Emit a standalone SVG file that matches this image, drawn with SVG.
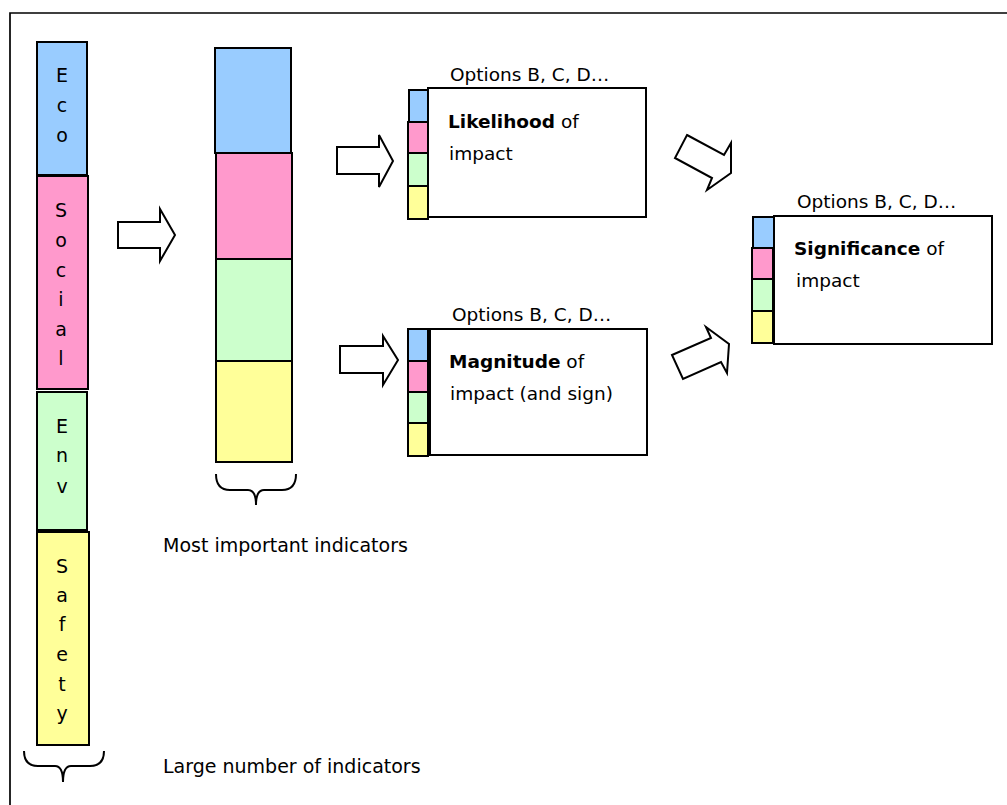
<svg xmlns="http://www.w3.org/2000/svg" width="1007" height="805" viewBox="0 0 1007 805">
<style>
  .bx{stroke:#000;stroke-width:2}
  .b{fill:#99CCFF}.p{fill:#FF99CC}.g{fill:#CCFFCC}.y{fill:#FFFF99}
  .w{fill:#fff;stroke:#000;stroke-width:2}
  .t{font-family:"DejaVu Sans","Liberation Sans",sans-serif;font-size:19px;fill:#000}
  .o{font-family:"DejaVu Sans","Liberation Sans",sans-serif;font-size:18.5px;fill:#000}
  .lt{font-family:"DejaVu Sans","Liberation Sans",sans-serif;font-size:19px;fill:#000;text-anchor:middle}
  .arr{fill:#fff;stroke:#000;stroke-width:2;stroke-linejoin:miter}
  .br{fill:none;stroke:#000;stroke-width:2}
</style>
<rect width="1007" height="805" fill="#fff"/>
<g id="frame"><path d="M10,805 L10,13 L1007,13" fill="none" stroke="#000" stroke-width="1.7"/></g>

<g id="left-column">
  <g id="eco"><rect class="bx b" x="37" y="42" width="50" height="133"/>
    <text class="lt" x="62" y="82">E</text><text class="lt" x="62" y="112">c</text><text class="lt" x="62" y="142">o</text></g>
  <g id="social"><rect class="bx p" x="37" y="176" width="51" height="213"/>
    <text class="lt" x="61" y="217">S</text><text class="lt" x="61" y="247">o</text><text class="lt" x="61" y="277">c</text><text class="lt" x="61" y="306">i</text><text class="lt" x="61" y="336">a</text><text class="lt" x="61" y="365">l</text></g>
  <g id="env"><rect class="bx g" x="37" y="392" width="50" height="138"/>
    <text class="lt" x="62" y="433">E</text><text class="lt" x="62" y="462">n</text><text class="lt" x="62" y="493">v</text></g>
  <g id="safety"><rect class="bx y" x="37" y="532" width="52" height="213"/>
    <text class="lt" x="62" y="573">S</text><text class="lt" x="62" y="602">a</text><text class="lt" x="62" y="631">f</text><text class="lt" x="62" y="661">e</text><text class="lt" x="62" y="691">t</text><text class="lt" x="62" y="720">y</text></g>
  <path class="br" d="M24,751 Q24,766 38,766 L55,766 Q63,766 63,782 Q63,766 71,766 L90,766 Q104,766 104,751"/>
  <text class="t" x="163" y="773">Large number of indicators</text>
</g>

<g id="middle-column">
  <rect class="bx b" x="215" y="48" width="76" height="105"/>
  <rect class="bx p" x="216" y="153" width="76" height="106"/>
  <rect class="bx g" x="216" y="259" width="76" height="102"/>
  <rect class="bx y" x="216" y="361" width="76" height="101"/>
  <path class="br" d="M216,474 Q216,490 230,490 L248,490 Q256,490 256,505 Q256,490 264,490 L282,490 Q296,490 296,474"/>
  <text class="t" x="163" y="552">Most important indicators</text>
</g>

<g id="likelihood">
  <text class="o" x="450" y="81">Options B, C, D…</text>
  <rect class="w" x="428" y="88" width="218" height="129"/>
  <rect class="bx b" x="409" y="90" width="19" height="32"/>
  <rect class="bx p" x="408" y="122" width="20" height="31"/>
  <rect class="bx g" x="408" y="153" width="20" height="33"/>
  <rect class="bx y" x="408" y="186" width="20" height="33"/>
  <text class="o" x="448" y="128"><tspan font-weight="bold">Likelihood</tspan> of</text>
  <text class="o" x="449" y="160">impact</text>
</g>

<g id="magnitude">
  <text class="o" x="452" y="321">Options B, C, D…</text>
  <rect class="w" x="430" y="329" width="217" height="126"/>
  <rect class="bx b" x="408" y="329" width="20" height="32"/>
  <rect class="bx p" x="408" y="361" width="20" height="31"/>
  <rect class="bx g" x="408" y="392" width="20" height="31"/>
  <rect class="bx y" x="408" y="423" width="20" height="33"/>
  <text class="o" x="449" y="368"><tspan font-weight="bold">Magnitude</tspan> of</text>
  <text class="o" x="450" y="400">impact (and sign)</text>
</g>

<g id="significance">
  <text class="o" x="797" y="208">Options B, C, D…</text>
  <rect class="w" x="774" y="216" width="218" height="128"/>
  <rect class="bx b" x="753" y="217" width="21" height="31"/>
  <rect class="bx p" x="752" y="248" width="21" height="31"/>
  <rect class="bx g" x="752" y="279" width="21" height="32"/>
  <rect class="bx y" x="752" y="311" width="21" height="32"/>
  <text class="o" x="794" y="255"><tspan font-weight="bold">Significance</tspan> of</text>
  <text class="o" x="796" y="287">impact</text>
</g>

<g id="connectors">
  <polygon class="arr" points="118,222 160,222 160,209 175,235 160,261 160,248 118,248"/>
  <polygon class="arr" points="337,147 379,147 379,135 393,161 379,187 379,174 337,174"/>
  <polygon class="arr" points="340,346 383,346 383,336 398,360 383,385 383,373 340,373"/>
  <polygon class="arr" points="687,135 724,155 731,143 731,173 707,190 712,178 675,158"/>
  <polygon class="arr" points="672,355 711,338 706,327 729,344 727,373 721,362 683,379"/>
</g>
</svg>
